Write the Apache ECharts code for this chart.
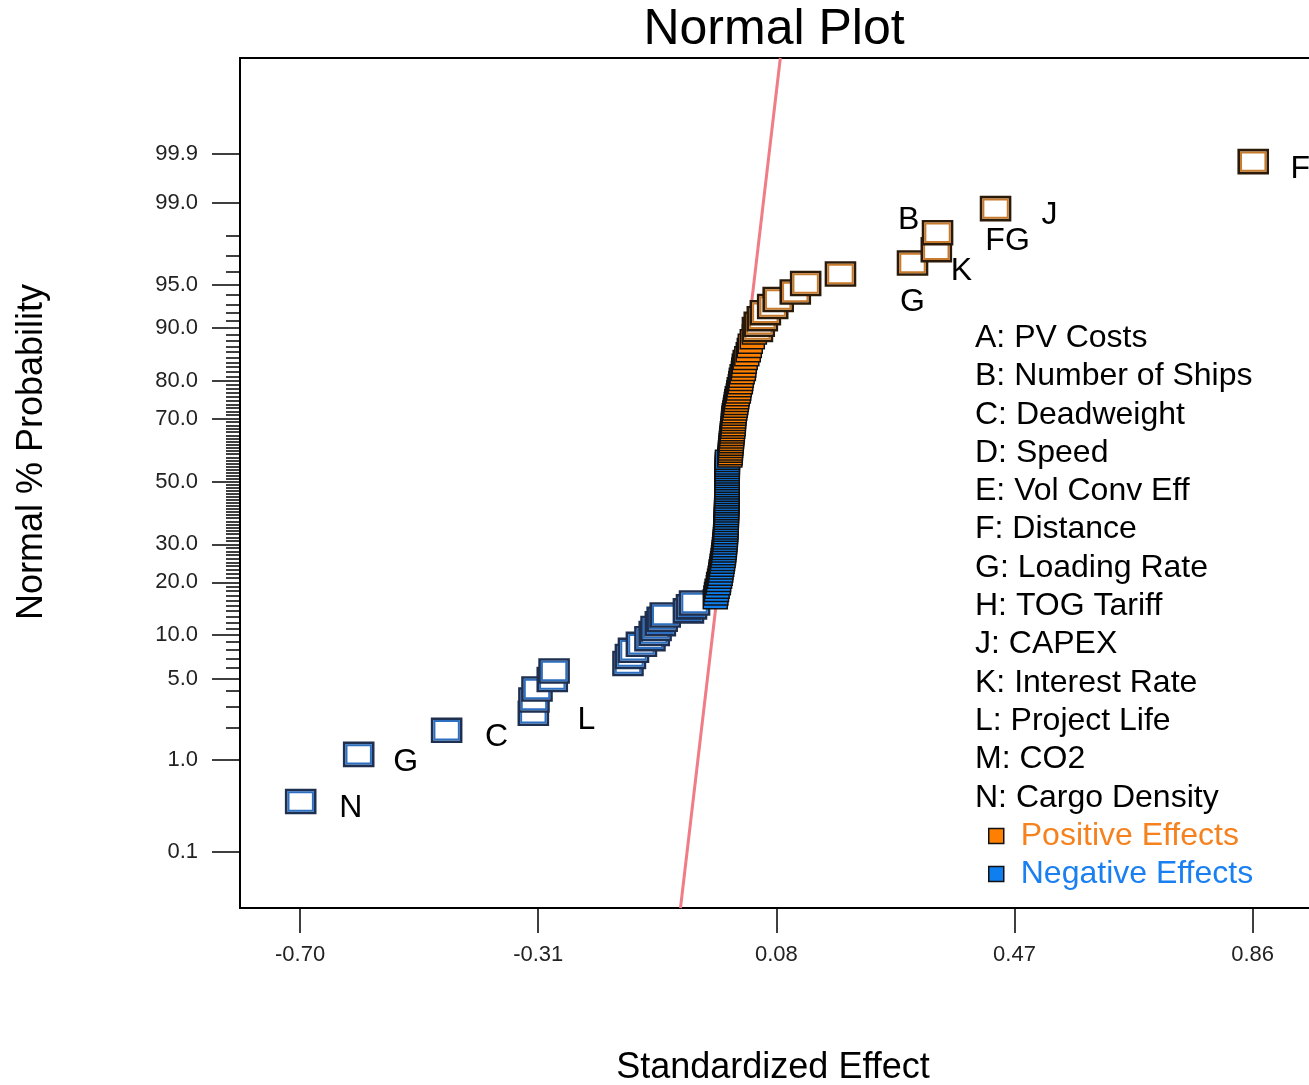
<!DOCTYPE html>
<html>
<head>
<meta charset="utf-8">
<title>Normal Plot</title>
<script src="https://cdn.jsdelivr.net/npm/echarts@6/dist/echarts.min.js"></script>
<style>
html, body { margin: 0; padding: 0; background: #fff; }
#main { width: 1309px; height: 1085px; }
</style>
</head>
<body>
<div id="main"></div>
<script>
// standardized effects (sorted ascending)
var negativeEffects = [
    -0.699, -0.604, -0.460, -0.318, -0.317, -0.312, -0.287, -0.284, -0.163, -0.159,
    -0.154, -0.141, -0.127, -0.120, -0.117, -0.110, -0.107, -0.102, -0.064, -0.059,
    -0.054, -0.020, -0.019, -0.018, -0.017, -0.015, -0.0145, -0.013, -0.012, -0.011,
    -0.0105, -0.0095, -0.0088, -0.008, -0.0072, -0.0065, -0.006, -0.0055, -0.005, -0.0046,
    -0.0042, -0.0038, -0.0034, -0.0031, -0.0029, -0.0027, -0.0025, -0.0023, -0.0021, -0.0019,
    -0.0018, -0.0017, -0.0016, -0.0015, -0.0014, -0.0013, -0.0012, -0.0011, -0.0010, -0.0009,
    -0.0009, -0.0008, -0.0008, -0.0007, -0.0007, -0.0006, -0.0006, -0.0005, -0.0005, -0.0004,
    -0.0004, -0.0003, -0.0003, -0.0002, -0.0002, -0.0001
];
var positiveEffects = [
    0.0038, 0.0044, 0.0046, 0.0048, 0.0052, 0.0055, 0.0060, 0.0063, 0.0068, 0.0071,
    0.0077, 0.0080, 0.0086, 0.0092, 0.0095, 0.0098, 0.0101, 0.0105, 0.0111, 0.0120,
    0.0128, 0.0136, 0.0144, 0.0152, 0.0160, 0.0177, 0.0185, 0.0193, 0.0210, 0.0218,
    0.0226, 0.0240, 0.0260, 0.0267, 0.0275, 0.0290, 0.0316, 0.0340, 0.0357, 0.0373,
    0.0406, 0.0440, 0.0490, 0.0520, 0.0570, 0.0620, 0.0740, 0.0830, 0.1110, 0.1280,
    0.1850, 0.3030, 0.3420, 0.3440, 0.4390, 0.8610
];
// how many effects at each end are drawn as open squares
var hollowLow = 21;
var hollowHigh = 14;

// labels: low end counted from the bottom, high end counted from the top
var lowLabels = ['N', 'G', 'C', 'L'];
var highLabels = ['F', 'J', 'B', 'K', 'G'];
var extraHighLabels = [[2, 'FG']];

var factorNames = [
    'A: PV Costs', 'B: Number of Ships', 'C: Deadweight', 'D: Speed', 'E: Vol Conv Eff',
    'F: Distance', 'G: Loading Rate', 'H: TOG Tariff', 'J: CAPEX', 'K: Interest Rate',
    'L: Project Life', 'M: CO2', 'N: Cargo Density'
];

var xTicks = [-0.70, -0.31, 0.08, 0.47, 0.86];
var probTicks = [0.1, 1, 5, 10, 20, 30, 50, 70, 80, 90, 95, 99, 99.9];
var probTickLabels = ['0.1', '1.0', '5.0', '10.0', '20.0', '30.0', '50.0', '70.0', '80.0', '90.0', '95.0', '99.0', '99.9'];

// reference line (effect at bottom and top of the plot)
var fitLineEffect = [-0.077, 0.0865];
var fitLineZ = [-3.56, 3.535];

// label offsets in px
var lowLabelOffset = [[50, 7], [47, 8], [50, 7], [53, 7]];
var highLabelOffset = [[47, 8], [54, 7], [-29, -13], [25, 21], [0, 39]];
var extraLabelOffset = [[12, 33]];

// inverse normal cdf (Acklam)
function probit(p) {
    var a = [-3.969683028665376e+01, 2.209460984245205e+02, -2.759285104469687e+02, 1.383577518672690e+02, -3.066479806614716e+01, 2.506628277459239e+00];
    var b = [-5.447609879822406e+01, 1.615858368580409e+02, -1.556989798598866e+02, 6.680131188771972e+01, -1.328068155288572e+01];
    var c = [-7.784894002430293e-03, -3.223964580411365e-01, -2.400758277161838e+00, -2.549732539343734e+00, 4.374664141464968e+00, 2.938163982698783e+00];
    var d = [7.784695709041462e-03, 3.224671290700398e-01, 2.445134137142996e+00, 3.754408661907416e+00];
    var q, r;
    if (p < 0.02425) {
        q = Math.sqrt(-2 * Math.log(p));
        return (((((c[0] * q + c[1]) * q + c[2]) * q + c[3]) * q + c[4]) * q + c[5]) / ((((d[0] * q + d[1]) * q + d[2]) * q + d[3]) * q + 1);
    }
    if (p > 1 - 0.02425) {
        q = Math.sqrt(-2 * Math.log(1 - p));
        return -(((((c[0] * q + c[1]) * q + c[2]) * q + c[3]) * q + c[4]) * q + c[5]) / ((((d[0] * q + d[1]) * q + d[2]) * q + d[3]) * q + 1);
    }
    q = p - 0.5;
    r = q * q;
    return (((((a[0] * r + a[1]) * r + a[2]) * r + a[3]) * r + a[4]) * r + a[5]) * q / (((((b[0] * r + b[1]) * r + b[2]) * r + b[3]) * r + b[4]) * r + 1);
}

var majorTickZ = probTicks.map(function (p) { return probit(p / 100); });
// the reference draws its 99.9 tick lower than the true probit position
majorTickZ[majorTickZ.length - 1] = 2.734;
var minorTickZ = [];
for (var pc = 1; pc <= 99; pc++) {
    if (probTicks.indexOf(pc) < 0) minorTickZ.push(probit(pc / 100));
}

// plotting positions (i - 0.5) / n
var n = negativeEffects.length + positiveEffects.length;
var negData = [], negInfo = [], posData = [], posInfo = [];
negativeEffects.forEach(function (v, i) {
    var rank = i + 1;
    negData.push([v, probit((rank - 0.5) / n), rank <= hollowLow ? 1 : 0]);
    var info = [];
    if (i < lowLabels.length) info.push({ text: lowLabels[i], dx: lowLabelOffset[i][0], dy: lowLabelOffset[i][1] });
    negInfo.push(info);
});
positiveEffects.forEach(function (v, i) {
    var rank = negativeEffects.length + i + 1;
    var fromTop = n - rank + 1;
    posData.push([v, probit((rank - 0.5) / n), fromTop <= hollowHigh ? 1 : 0]);
    var info = [];
    if (fromTop <= highLabels.length) info.push({ text: highLabels[fromTop - 1], dx: highLabelOffset[fromTop - 1][0], dy: highLabelOffset[fromTop - 1][1] });
    extraHighLabels.forEach(function (e, k) {
        if (e[0] === fromTop) info.push({ text: e[1], dx: extraLabelOffset[k][0], dy: extraLabelOffset[k][1] });
    });
    posInfo.push(info);
});

var FONT = '"Liberation Sans", Arial, sans-serif';

function makeRender(info, fillColor, outerColor, innerColor) {
    return function (params, api) {
        var c = api.coord([api.value(0), api.value(1)]);
        var children = [];
        if (api.value(2) === 1) {
            children.push({ type: 'rect', shape: { x: c[0] - 14.5, y: c[1] - 11.5, width: 29, height: 23 },
                style: { fill: '#fff', stroke: outerColor, lineWidth: 2.6 } });
            children.push({ type: 'rect', shape: { x: c[0] - 12.2, y: c[1] - 9.2, width: 24.4, height: 18.4 },
                style: { fill: 'none', stroke: innerColor, lineWidth: 2 } });
        } else {
            children.push({ type: 'rect', shape: { x: c[0] - 12, y: c[1] - 9.5, width: 24, height: 19 },
                style: { fill: fillColor, stroke: '#111', lineWidth: 1.5 } });
        }
        (info[params.dataIndex] || []).forEach(function (l) {
            children.push({ type: 'text', x: c[0] + l.dx, y: c[1] + l.dy,
                style: { text: l.text, fill: '#000', font: '32px ' + FONT, align: 'center', verticalAlign: 'middle' } });
        });
        return { type: 'group', children: children };
    };
}

var myChart = echarts.init(document.getElementById('main'));
var option = {
    animation: false,
    backgroundColor: '#fff',
    grid: {
        left: 240, top: 58, width: 1075, height: 850,
        outerBoundsMode: 'none',
        show: true, borderColor: '#000', borderWidth: 2
    },
    xAxis: {
        type: 'value',
        min: -0.7984,
        max: -0.7984 + 1075 / 610.6,
        splitLine: { show: false },
        axisLine: { onZero: false, lineStyle: { color: '#000', width: 2 } },
        axisTick: { customValues: xTicks, length: 25, lineStyle: { color: '#000', width: 1.5 } },
        axisLabel: {
            customValues: xTicks, margin: 36, fontSize: 22, fontFamily: FONT, color: '#222',
            formatter: function (v) { return v.toFixed(2); }
        }
    },
    yAxis: [{
        type: 'value',
        min: -3.56,
        max: 3.535,
        splitLine: { show: false },
        axisLine: { onZero: false, lineStyle: { color: '#000', width: 2 } },
        axisTick: { customValues: majorTickZ, length: 28, lineStyle: { color: '#000', width: 1.5 } },
        axisLabel: {
            customValues: majorTickZ, margin: 42, fontSize: 22, fontFamily: FONT, color: '#222',
            formatter: function (v) {
                for (var i = 0; i < majorTickZ.length; i++) {
                    if (Math.abs(majorTickZ[i] - v) < 1e-6) return probTickLabels[i];
                }
                return '';
            }
        }
    }, {
        type: 'value',
        position: 'left',
        min: -3.56,
        max: 3.535,
        splitLine: { show: false },
        axisLine: { show: false, onZero: false },
        axisTick: { customValues: minorTickZ, length: 14, lineStyle: { color: '#000', width: 1.5 } },
        axisLabel: { show: false }
    }],
    legend: {
        orient: 'vertical',
        left: 983,
        top: 815,
        icon: 'rect',
        itemWidth: 15,
        itemHeight: 15,
        itemGap: 6,
        itemStyle: { borderColor: '#111', borderWidth: 1.5 },
        textStyle: { fontSize: 32, fontFamily: FONT, lineHeight: 32, padding: [0, 0, 0, 12] },
        data: [
            { name: 'Positive Effects', textStyle: { color: '#f5821f' } },
            { name: 'Negative Effects', textStyle: { color: '#1a7ff0' } }
        ]
    },
    graphic: [
        { type: 'text', x: 774, y: 30, style: { text: 'Normal Plot', font: '50px ' + FONT, fill: '#000', align: 'center', verticalAlign: 'middle' } },
        { type: 'text', x: 773, y: 1068, style: { text: 'Standardized Effect', font: '36px ' + FONT, fill: '#000', align: 'center', verticalAlign: 'middle' } },
        { type: 'text', x: 32, y: 452, rotation: Math.PI / 2, style: { text: 'Normal % Probability', font: '36px ' + FONT, fill: '#000', align: 'center', verticalAlign: 'middle' } },
        { type: 'text', x: 975, y: 319, style: { text: factorNames.join('\n'), font: '32px ' + FONT, lineHeight: 38.3, fill: '#000', align: 'left', verticalAlign: 'top' } }
    ],
    series: [{
        name: 'fit',
        type: 'line',
        data: fitLineEffect.map(function (x, i) { return [x, fitLineZ[i]]; }),
        symbol: 'none',
        silent: true,
        z: 1,
        lineStyle: { color: '#f07c86', width: 3 }
    }, {
        name: 'Negative Effects',
        type: 'custom',
        z: 2,
        itemStyle: { color: '#0f7ff0' },
        renderItem: makeRender(negInfo, '#0f7ff0', '#1f2f4f', '#2d6fc0'),
        data: negData
    }, {
        name: 'Positive Effects',
        type: 'custom',
        z: 3,
        itemStyle: { color: '#ff8000' },
        renderItem: makeRender(posInfo, '#ff8000', '#2a1a0a', '#c87b2c'),
        data: posData
    }]
};
myChart.setOption(option);
</script>
</body>
</html>
